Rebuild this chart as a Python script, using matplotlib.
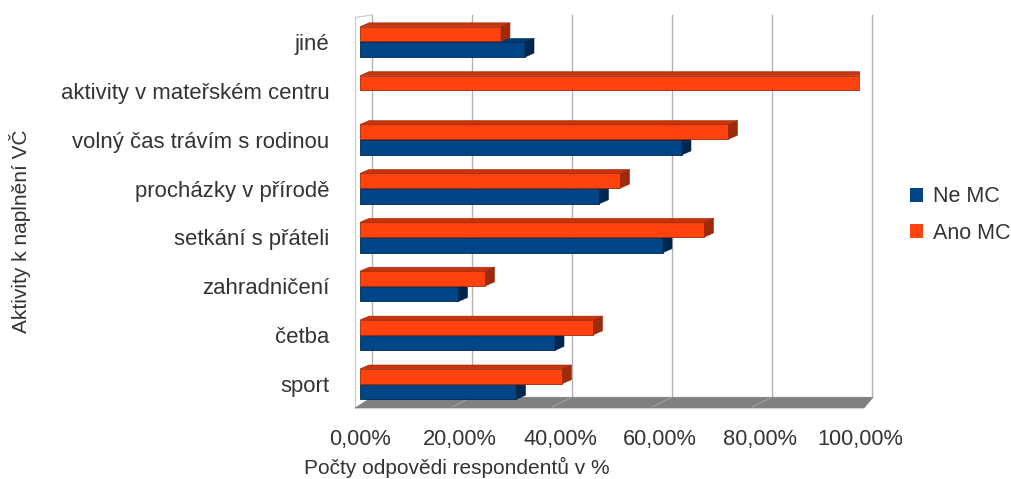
import matplotlib.pyplot as plt
from matplotlib.patches import Polygon, Patch

plt.rcParams['font.family'] = ['Liberation Sans', 'DejaVu Sans']

# data (bottom -> top)
kategorie = ['sport', 'četba', 'zahradničení', 'setkání s přáteli',
             'procházky v přírodě', 'volný čas trávím s rodinou',
             'aktivity v mateřském centru', 'jiné']
ne_mc = [31.3, 39.0, 19.7, 60.6, 47.9, 64.4, 0.0, 33.0]
ano_mc = [40.5, 46.7, 25.1, 68.9, 52.1, 73.7, 100.0, 28.2]
x_ticks = [0, 20, 40, 60, 80, 100]
x_labels = ['0,00%', '20,00%', '40,00%', '60,00%', '80,00%', '100,00%']

txt = '#333333'
fs = 15

fig = plt.figure(figsize=(10.12, 4.79), dpi=100)
ax = fig.add_axes([360 / 1012, 71 / 479, 500 / 1012, 393 / 479])
ax.set_xlim(0, 100)
ax.set_ylim(-0.49, 7.55)
for s in ax.spines.values():
    s.set_visible(False)

# depth of the fake 3d effect in data units
ddx, ddy = 1.8, 0.08
wdx = 2.4          # back wall offset
yf, yb = -0.49, -0.27  # floor front / back edge

# floor
ax.add_patch(Polygon([(-1, yf), (100.8, yf), (102.6, yb), (wdx, yb)],
                     closed=True, fc='#808080', ec='#808080', lw=0.5,
                     clip_on=False, zorder=1))
for v in x_ticks[1:-1]:
    ax.plot([v - 1.6, v + wdx], [yf + 0.02, yb], color='#a8a8a8', lw=0.6,
            clip_on=False, zorder=1.5)

# back wall grid
for v in x_ticks:
    ax.plot([v + wdx, v + wdx], [yb, 7.55], color='#b3b3b3', lw=1,
            clip_on=False, zorder=0.5)
# left wall edges
ax.plot([-1, -1], [yf, 7.5], color='#c8c8c8', lw=0.8, clip_on=False, zorder=0.5)
ax.plot([-1, wdx], [7.5, 7.55], color='#c8c8c8', lw=0.8, clip_on=False, zorder=0.5)


def bar3d(y, v, h, front, top, side, z):
    if v <= 0:
        return
    b, t = y - h / 2, y + h / 2
    ax.barh(y, v, height=h, color=front, edgecolor=side, lw=0.6, zorder=z)
    ax.add_patch(Polygon([(0, t), (v, t), (v + ddx, t + ddy), (ddx, t + ddy)],
                         closed=True, fc=top, ec=side, lw=0.4, zorder=z))
    ax.add_patch(Polygon([(v, b), (v, t), (v + ddx, t + ddy), (v + ddx, b + ddy)],
                         closed=True, fc=side, ec=side, lw=0.4, zorder=z))


h, off = 0.30, 0.16
for i in range(len(kategorie)):
    bar3d(i - off, ne_mc[i], h, '#004586', '#003a70', '#00264d', 3 + i)
    bar3d(i + off, ano_mc[i], h, '#ff420e', '#c8340b', '#9c2a0b', 3.5 + i)

ax.set_yticks(range(len(kategorie)))
ax.set_yticklabels(kategorie, fontsize=15.9, color=txt)
ax.set_xticks(x_ticks)
ax.set_xticklabels(x_labels, fontsize=15.7, color=txt)
ax.tick_params(axis='y', length=0, pad=22)
ax.tick_params(axis='x', length=0, pad=15)

fig.text(457 / 1012, 1 - 467 / 479, 'Počty odpovědi respondentů v %',
         fontsize=fs, color=txt, ha='center', va='center')
fig.text(20 / 1012, 1 - 231 / 479, 'Aktivity k naplnění VČ',
         fontsize=fs, color=txt, ha='center', va='center', rotation=90)

handles = [Patch(fc='#004586', label='Ne MC'), Patch(fc='#ff420e', label='Ano MC')]
fig.legend(handles=handles, loc='center left', bbox_to_anchor=(906 / 1012, 1 - 215 / 479),
           frameon=False, fontsize=15.5, labelcolor=txt, handlelength=0.6,
           handleheight=0.6, handletextpad=0.45, labelspacing=0.7, borderpad=0.2,
           borderaxespad=0)

fig.savefig('out.png', dpi=100)
